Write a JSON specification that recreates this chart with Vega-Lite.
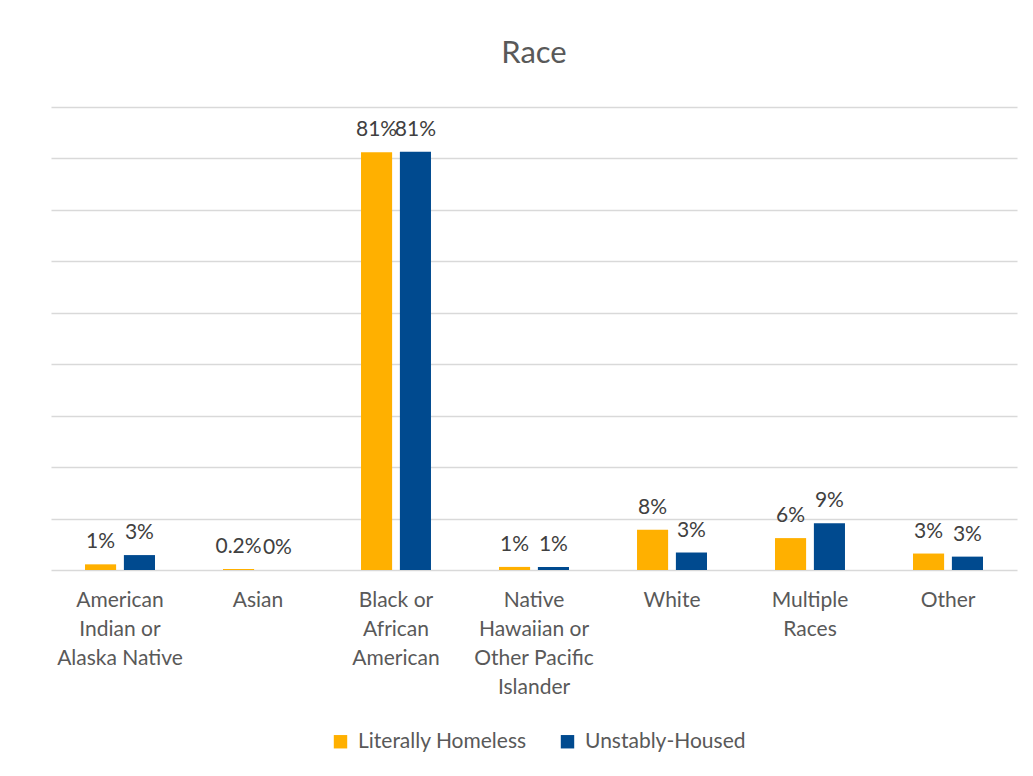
{
  "$schema": "https://vega.github.io/schema/vega-lite/v6.json",
  "autosize": {"type": "none"},
  "width": 966,
  "height": 463,
  "padding": {"left": 51, "top": 107, "right": 16, "bottom": 206},
  "background": "white",
  "title": {"text": "Race", "fontSize": 31, "font": "Lato", "fontWeight": "normal", "color": "#595959", "anchor": "middle", "offset": 37},
  "data": {"values": [
    {"race": "American Indian or Alaska Native", "group": "Literally Homeless", "value": 0.011, "label": "1%"},
    {"race": "American Indian or Alaska Native", "group": "Unstably-Housed", "value": 0.029, "label": "3%"},
    {"race": "Asian", "group": "Literally Homeless", "value": 0.002, "label": "0.2%"},
    {"race": "Asian", "group": "Unstably-Housed", "value": 0.0, "label": "0%"},
    {"race": "Black or African American", "group": "Literally Homeless", "value": 0.812, "label": "81%"},
    {"race": "Black or African American", "group": "Unstably-Housed", "value": 0.813, "label": "81%"},
    {"race": "Native Hawaiian or Other Pacific Islander", "group": "Literally Homeless", "value": 0.006, "label": "1%"},
    {"race": "Native Hawaiian or Other Pacific Islander", "group": "Unstably-Housed", "value": 0.006, "label": "1%"},
    {"race": "White", "group": "Literally Homeless", "value": 0.078, "label": "8%"},
    {"race": "White", "group": "Unstably-Housed", "value": 0.034, "label": "3%"},
    {"race": "Multiple Races", "group": "Literally Homeless", "value": 0.062, "label": "6%"},
    {"race": "Multiple Races", "group": "Unstably-Housed", "value": 0.091, "label": "9%"},
    {"race": "Other", "group": "Literally Homeless", "value": 0.032, "label": "3%"},
    {"race": "Other", "group": "Unstably-Housed", "value": 0.026, "label": "3%"}
  ]},
  "encoding": {
    "x": {
      "field": "race", "type": "nominal", "sort": null,
      "scale": {"paddingInner": 0.493, "paddingOuter": 0.2465},
      "axis": {
        "title": null, "labelAngle": 0, "ticks": false, "domain": false,
        "labelFont": "Lato", "labelFontSize": 21, "labelColor": "#595959",
        "labelPadding": 19, "labelLineHeight": 29, "labelBaseline": "top",
        "labelExpr": "datum.value == 'American Indian or Alaska Native' ? ['American', 'Indian or', 'Alaska Native'] : datum.value == 'Black or African American' ? ['Black or', 'African', 'American'] : datum.value == 'Native Hawaiian or Other Pacific Islander' ? ['Native', 'Hawaiian or', 'Other Pacific', 'Islander'] : datum.value == 'Multiple Races' ? ['Multiple', 'Races'] : datum.value"
      }
    },
    "xOffset": {"field": "group", "type": "nominal", "scale": {"paddingInner": 0.2, "paddingOuter": 0}},
    "y": {
      "field": "value", "type": "quantitative",
      "scale": {"domain": [0, 0.9], "nice": false},
      "axis": {"title": null, "labels": false, "ticks": false, "domain": false, "values": [0, 0.1, 0.2, 0.3, 0.4, 0.5, 0.6, 0.7, 0.8, 0.9], "grid": true, "gridColor": "#D9D9D9", "gridWidth": 1.5}
    }
  },
  "layer": [
    {
      "mark": {"type": "bar"},
      "encoding": {
        "color": {
          "field": "group", "type": "nominal",
          "scale": {"domain": ["Literally Homeless", "Unstably-Housed"], "range": ["#FFB000", "#004A8F"]},
          "legend": {
            "title": null, "orient": "none", "direction": "horizontal", "legendX": 279, "legendY": 624,
            "symbolType": "square", "symbolSize": 180, "symbolStrokeWidth": 0,
            "labelFont": "Lato", "labelFontSize": 21, "labelColor": "#595959", "labelLimit": 0,
            "columnPadding": 30, "padding": 0, "labelOffset": 7
          }
        }
      }
    },
    {
      "mark": {"type": "text", "baseline": "bottom", "dy": -12, "font": "Lato", "fontSize": 21, "color": "#404040"},
      "encoding": {"text": {"field": "label"}}
    }
  ],
  "config": {"view": {"stroke": null}}
}
